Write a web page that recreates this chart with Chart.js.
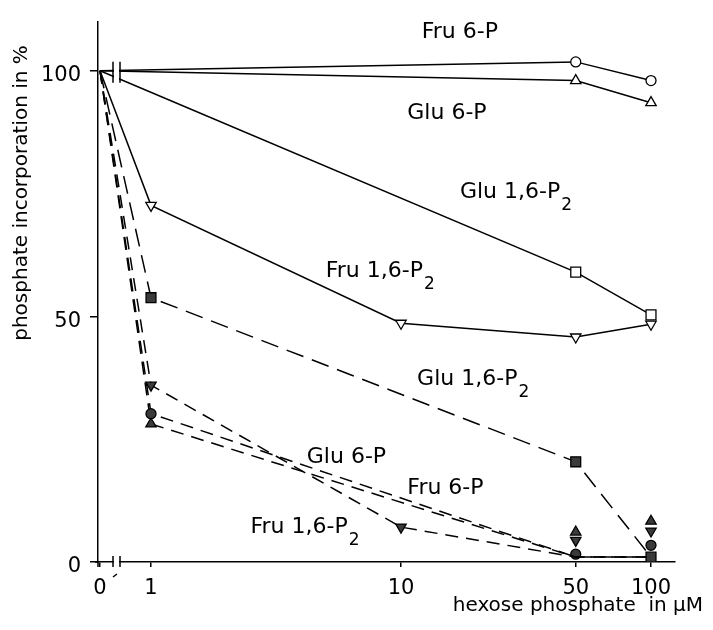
<!DOCTYPE html>
<html>
<head>
<meta charset="utf-8">
<script src="https://cdn.jsdelivr.net/npm/chart.js@4/dist/chart.umd.min.js"></script>
<style>
  html, body { margin: 0; padding: 0; background: #fff; }
  #wrap { width: 713px; height: 630px; }
</style>
</head>
<body>
<div id="wrap"><canvas id="c" width="713" height="630"></canvas></div>
<script>
// Hexose phosphate concentrations (µM) and axis labels
const concentrations = [0, 1, 10, 50, 100];
const xTickLabels = ['0', '1', '10', '50', '100'];
const yTickValues = [0, 50, 100];

// Solid lines (open symbols), % phosphate incorporation
const fru6P   = [100, null, null, 101.8, 98.0];
const glu6P   = [100, null, null, 98.0, 93.5];
const glu16P2 = [100, null, null, 59.0, 50.3];
const fru16P2 = [100, 72.6, 48.6, 45.8, 48.4];

// Dashed lines (filled symbols)
const glu16P2Dashed = [100, 53.8, null, 20.4, 1.0];
const fru16P2Dashed = [100, 36.0, 7.1, 1.0, 1.0];
const fru6PDashed   = [100, 30.2, null, 1.0, 1.0];
const glu6PDashed   = [100, 28.1, null, 1.0, 1.0];

// Single symbols stacked above the baseline at 50 and 100 µM
const glu6PDashedPts   = [null, null, null, 6.1, 8.3];
const fru16P2DashedPts = [null, null, null, 4.4, 6.3];
const fru6PDashedPts   = [null, null, null, 1.6, 3.4];

// Curve labels: text, subscript, anchor (concentration, %)
const curveLabels = [
  { text: 'Fru 6-P',   sub: '',  at: [12.1, 106.7] },
  { text: 'Glu 6-P',   sub: '',  at: [10.6, 90.1] },
  { text: 'Glu 1,6-P', sub: '2', at: [17.2, 74.0] },
  { text: 'Fru 1,6-P', sub: '2', at: [5.0, 58.1] },
  { text: 'Glu 1,6-P', sub: '2', at: [11.6, 36.1] },
  { text: 'Glu 6-P',   sub: '',  at: [4.2, 20.2] },
  { text: 'Fru 6-P',   sub: '',  at: [10.6, 13.9] },
  { text: 'Fru 1,6-P', sub: '2', at: [2.5, 5.85] }
];

// log axis with the zero point placed left of the axis break
const ZERO_POS = -0.204;
const pos = c => (c === 0 ? ZERO_POS : Math.log10(c));

const FONT = '"DejaVu Sans", sans-serif';

function points(values) {
  const out = [];
  values.forEach((v, i) => { if (v !== null) out.push({ x: pos(concentrations[i]), c: concentrations[i], y: v }); });
  return out;
}

function series(values, opts) {
  const data = points(values);
  const r = opts.radius;
  return {
    data,
    borderColor: '#000',
    borderWidth: 1.5,
    borderDash: opts.dash || [],
    showLine: opts.showLine !== false,
    spanGaps: true,
    tension: 0,
    fill: false,
    pointStyle: opts.style,
    pointRotation: opts.rotation || 0,
    pointRadius: data.map(p => (p.c === 0 || (opts.hideFrom !== undefined && p.c >= opts.hideFrom)) ? 0 : r),
    pointHoverRadius: 0,
    pointBackgroundColor: opts.filled ? '#3a3a3a' : '#fff',
    pointBorderColor: '#000',
    pointBorderWidth: 1.3
  };
}

const decorations = {
  id: 'decorations',
  afterDraw(chart) {
    const { ctx, scales: { x, y } } = chart;
    ctx.save();
    ctx.strokeStyle = '#000';
    ctx.fillStyle = '#000';
    ctx.lineWidth = 1.5;

    // axis break between 0 and 1
    const b1 = x.getPixelForValue(-0.152), b2 = x.getPixelForValue(-0.124);
    const y0 = y.getPixelForValue(0), y100 = y.getPixelForValue(100);
    ctx.fillStyle = '#fff';
    ctx.fillRect(b1 + 1, y0 - 3, b2 - b1 - 2, 6);
    ctx.fillRect(b1 + 1, y100 - 10, b2 - b1 - 2, 24);
    ctx.fillStyle = '#000';
    ctx.beginPath();
    ctx.moveTo(b1, y0 - 6); ctx.lineTo(b1, y0 + 5);
    ctx.moveTo(b2, y0 - 6); ctx.lineTo(b2, y0 + 5);
    ctx.moveTo(b1, y100 - 9); ctx.lineTo(b1, y100 + 12);
    ctx.moveTo(b2, y100 - 9); ctx.lineTo(b2, y100 + 12);
    ctx.moveTo(b1, y0 + 15); ctx.lineTo(b1 + 4, y0 + 12);
    // y axis runs a little past the origin
    ctx.moveTo(x.left, y0); ctx.lineTo(x.left, y0 + 5);
    ctx.moveTo(x.left - 3, y0); ctx.lineTo(x.left, y0);
    ctx.stroke();

    // curve labels
    ctx.textAlign = 'left';
    ctx.textBaseline = 'alphabetic';
    curveLabels.forEach(l => {
      const px = x.getPixelForValue(pos(l.at[0]));
      const py = y.getPixelForValue(l.at[1]);
      ctx.font = '22px ' + FONT;
      ctx.fillText(l.text, px, py);
      if (l.sub) {
        const w = ctx.measureText(l.text).width;
        ctx.font = '17px ' + FONT;
        ctx.fillText(l.sub, px + w + 1, py + 12);
      }
    });

    // axis titles
    ctx.font = '20px ' + FONT;
    ctx.textAlign = 'right';
    ctx.textBaseline = 'middle';
    ctx.fillText('hexose phosphate  in µM', 703, 606);
    ctx.translate(22, 193);
    ctx.rotate(-Math.PI / 2);
    ctx.textAlign = 'center';
    ctx.fillText('phosphate incorporation in %', 0, 0);
    ctx.restore();
  }
};

new Chart(document.getElementById('c'), {
  type: 'line',
  data: {
    datasets: [
      series(fru6P,   { style: 'circle', radius: 5 }),
      series(glu6P,   { style: 'triangle', radius: 6 }),
      series(glu16P2, { style: 'rect', radius: 7 }),
      series(fru16P2, { style: 'triangle', rotation: 180, radius: 6 }),
      series(glu16P2Dashed, { style: 'rect', radius: 7, filled: true, dash: [18, 9] }),
      series(fru16P2Dashed, { style: 'triangle', rotation: 180, radius: 6, filled: true, dash: [13, 8], hideFrom: 50 }),
      series(fru6PDashed,   { style: 'circle', radius: 5, filled: true, dash: [13, 8], hideFrom: 50 }),
      series(glu6PDashed,   { style: 'triangle', radius: 6, filled: true, dash: [13, 8], hideFrom: 50 }),
      series(glu6PDashedPts,   { style: 'triangle', radius: 6, filled: true, showLine: false }),
      series(fru16P2DashedPts, { style: 'triangle', rotation: 180, radius: 6, filled: true, showLine: false }),
      series(fru6PDashedPts,   { style: 'circle', radius: 5, filled: true, showLine: false })
    ]
  },
  options: {
    responsive: false,
    animation: false,
    devicePixelRatio: 1,
    layout: { padding: { top: 16.4, right: 38, left: 0, bottom: 0 } },
    plugins: { legend: { display: false }, tooltip: { enabled: false } },
    scales: {
      x: {
        type: 'linear',
        min: -0.212,
        max: 2.096,
        afterBuildTicks: s => { s.ticks = concentrations.map(c => ({ value: pos(c) })); },
        afterFit: s => { s.height = 68; },
        ticks: {
          autoSkip: false, maxRotation: 0, color: '#000', padding: 9,
          font: { family: FONT, size: 21 },
          callback: (v, i) => xTickLabels[i]
        },
        grid: { drawOnChartArea: false, drawTicks: true, tickLength: 5, color: '#000', lineWidth: 1.5 },
        border: { display: true, color: '#000', width: 1.5 }
      },
      y: {
        min: 0,
        max: 110,
        afterBuildTicks: s => { s.ticks = yTickValues.map(v => ({ value: v })); },
        afterFit: s => { s.width = 98; },
        ticks: {
          color: '#000', padding: 9, labelOffset: 5,
          font: { family: FONT, size: 21 },
          callback: v => String(v)
        },
        grid: { drawOnChartArea: false, drawTicks: true, tickLength: 8, color: '#000', lineWidth: 1.5 },
        border: { display: true, color: '#000', width: 1.5 }
      }
    }
  },
  plugins: [decorations]
});
</script>
</body>
</html>
